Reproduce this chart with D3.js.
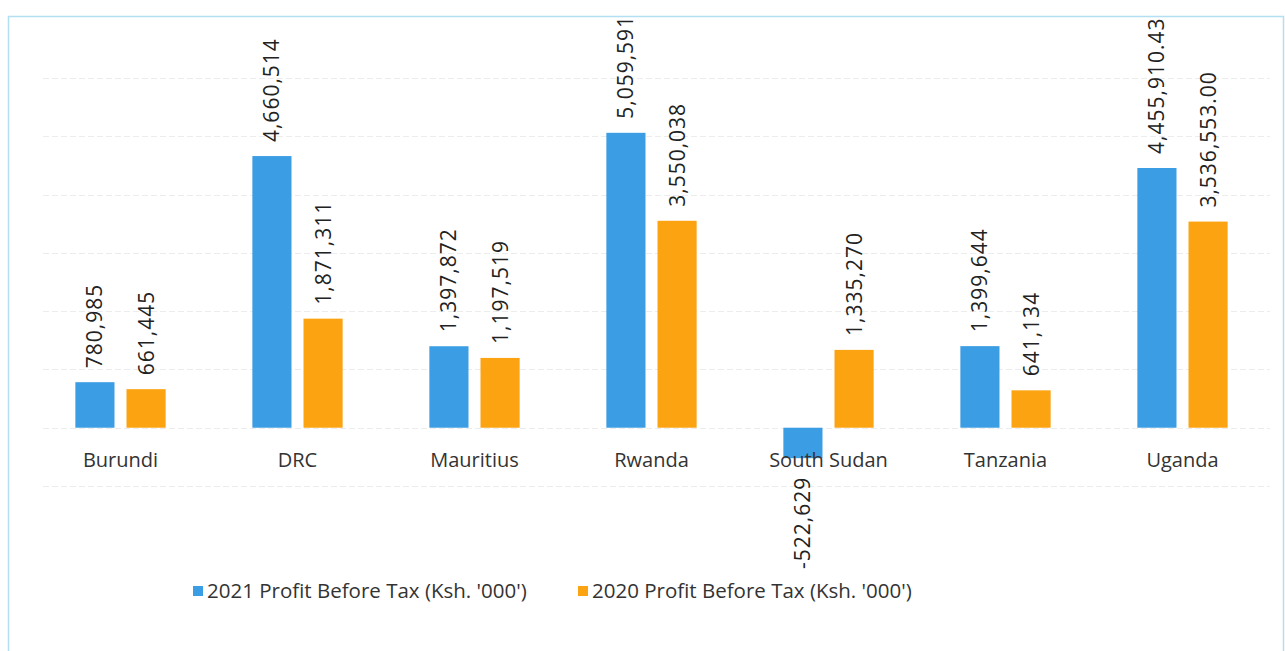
<!DOCTYPE html>
<html><head><meta charset="utf-8">
<script src="https://cdn.jsdelivr.net/npm/d3@7"></script>
<style>html,body{margin:0;padding:0;background:#fff;}svg{display:block;}</style>
</head><body>
<script>
const categories = ["Burundi","DRC","Mauritius","Rwanda","South Sudan","Tanzania","Uganda"];
const series = ["2021 Profit Before Tax (Ksh. '000')","2020 Profit Before Tax (Ksh. '000')"];
const values2021 = [780985, 4660514, 1397872, 5059591, -522629, 1399644, 4455910.43];
const values2020 = [661445, 1871311, 1197519, 3550038, 1335270, 641134, 3536553.00];
const labels2021 = ["780,985","4,660,514","1,397,872","5,059,591","-522,629","1,399,644","4,455,910.43"];
const labels2020 = ["661,445","1,871,311","1,197,519","3,550,038","1,335,270","641,134","3,536,553.00"];
const gridTicks = [-1000000,0,1000000,2000000,3000000,4000000,5000000,6000000];
const colors = ["#3b9de3","#fca312"];

const W=1285,H=651;
const font="'Open Sans','Noto Sans',sans-serif";
const svg=d3.select("body").append("svg").attr("width",W).attr("height",H);

// frame
svg.append("path").attr("d","M8.5,651 L8.5,16.5 L1283.5,16.5 L1283.5,651")
  .attr("fill","none").attr("stroke","#b3dff2").attr("stroke-width",1.5);

const y=d3.scaleLinear().domain([-1000000,6000000]).range([486,78]);
const x0=d3.scaleBand().domain(categories).range([32,1271]).paddingInner(0.49).paddingOuter(0.245);
const x1=d3.scaleBand().domain(series).range([0,x0.bandwidth()]).paddingInner(0.235);

// gridlines
svg.append("g").selectAll("line").data(gridTicks).join("line")
  .attr("x1",43).attr("x2",1270)
  .attr("y1",d=>Math.round(y(d))+0.5).attr("y2",d=>Math.round(y(d))+0.5)
  .attr("stroke","#ececec").attr("stroke-width",1).attr("stroke-dasharray","6,3");

const data=categories.map((c,i)=>({c,vals:[
  {s:series[0],v:values2021[i],l:labels2021[i],k:0},
  {s:series[1],v:values2020[i],l:labels2020[i],k:1}]}));

const g=svg.append("g").selectAll("g").data(data).join("g")
  .attr("transform",d=>`translate(${x0(d.c)},0)`);

g.selectAll("rect").data(d=>d.vals).join("rect")
  .attr("x",d=>x1(d.s)).attr("width",x1.bandwidth())
  .attr("y",d=>y(Math.max(0,d.v))).attr("height",d=>Math.abs(y(d.v)-y(0)))
  .attr("fill",d=>colors[d.k]);

g.selectAll("text.val").data(d=>d.vals).join("text").attr("class","val")
  .attr("transform",d=>{
    const cx=x1(d.s)+x1.bandwidth()/2;
    const yy=d.v>=0? y(d.v)-14 : y(0)+49;
    return `translate(${cx+7.5},${yy}) rotate(-90)`;})
  .attr("text-anchor",d=>d.v>=0?"start":"end")
  .attr("font-family",font).attr("font-size",21).attr("letter-spacing",1).attr("fill","#222")
  .text(d=>d.l);

// category labels
svg.append("g").selectAll("text").data(categories).join("text")
  .attr("x",d=>x0(d)+x0.bandwidth()/2).attr("y",467)
  .attr("text-anchor","middle").attr("font-family",font).attr("font-size",20).attr("fill","#333")
  .text(d=>d);

// legend
const lg=svg.append("g");
const legX=[193,578];
series.forEach((s,i)=>{
  lg.append("rect").attr("x",legX[i]).attr("y",586).attr("width",10).attr("height",10).attr("fill",colors[i]);
  lg.append("text").attr("x",legX[i]+14).attr("y",598).attr("font-family",font).attr("font-size",20.5).attr("fill","#333").text(s);
});
</script>
</body></html>
